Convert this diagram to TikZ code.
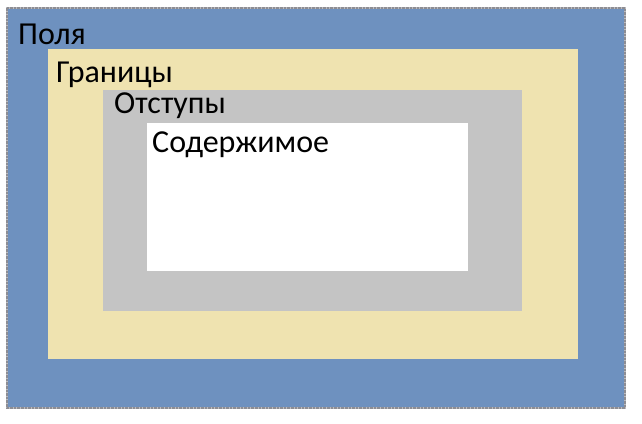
\documentclass[tikz,border=0pt]{standalone}
\usepackage{fontspec}
\setmainfont{Carlito}
\definecolor{polyablue}{RGB}{110,145,191}
\definecolor{granbeige}{RGB}{239,227,176}
\definecolor{otstgray}{RGB}{196,196,196}
\definecolor{edgegray}{RGB}{160,160,165}
\begin{document}
\begin{tikzpicture}
  [x=1pt,y=-1pt,
   box/.style={draw=none,inner sep=0pt},
   label/.style={anchor=base west,inner sep=0pt,font=\fontsize{32}{38}\selectfont}
  ]
  \useasboundingbox (0,0) rectangle (642,423);
  % outer field with its rough border
  \fill[polyablue] (7,8) rectangle (625,408);
  \draw[edgegray!70,line width=2.6pt] (7,8) rectangle (625,408);
  \draw[edgegray!120,line width=2.6pt,densely dotted] (7,8) rectangle (625,408);
  \node[box,fill=granbeige,minimum width=530pt,minimum height=310pt,anchor=north west] (gran) at (48,49) {};
  \node[box,fill=otstgray,minimum width=419pt,minimum height=221pt,anchor=north west] (otst) at (103,90) {};
  \node[box,fill=white,minimum width=321pt,minimum height=148pt,anchor=north west] (sod) at (147,123) {};
  % captions
  \node[label] (tpolya) at (18,44) {Поля};
  \node[label] (tgran) at (56,82) {Границы};
  \node[label] (totst) at (114,113) {Отступы};
  \node[label] (tsod) at (152,152) {Содержимое};
\end{tikzpicture}
\end{document}
